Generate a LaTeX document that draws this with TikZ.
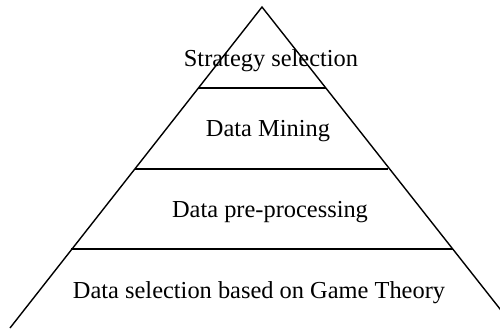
\documentclass[tikz,border=0pt]{standalone}
\usepackage{fontspec}
\setmainfont{Liberation Serif}
\begin{document}
\begin{tikzpicture}[x=1bp,y=-1bp,
  edge/.style={line width=1.4bp,black},
  lbl/.style={anchor=base,inner sep=0pt,font=\fontsize{24.5}{28}\selectfont}]
\useasboundingbox (0,0) rectangle (500,328);
\begin{scope}
\clip (0,0) rectangle (500,328);
\coordinate (apex) at (262,7);
\coordinate (bl) at (10,328);
\coordinate (br) at (515,328);
\draw[edge,line join=miter] (bl) -- (apex) -- (br);
\coordinate (l1) at (198,88);  \coordinate (r1) at (326,88);
\coordinate (l2) at (135,169); \coordinate (r2) at (388,169);
\coordinate (l3) at (71,249);  \coordinate (r3) at (453,249);
\draw[edge] (l1) -- (r1);
\draw[edge] (l2) -- (r2);
\draw[edge] (l3) -- (r3);
\end{scope}
\node[lbl] (t1) at (271,66) {Strategy selection};
\node[lbl] (t2) at (268,136) {Data Mining};
\node[lbl] (t3) at (270,217) {Data pre-processing};
\node[lbl] (t4) at (259,298) {Data selection based on Game Theory};
\end{tikzpicture}
\end{document}
